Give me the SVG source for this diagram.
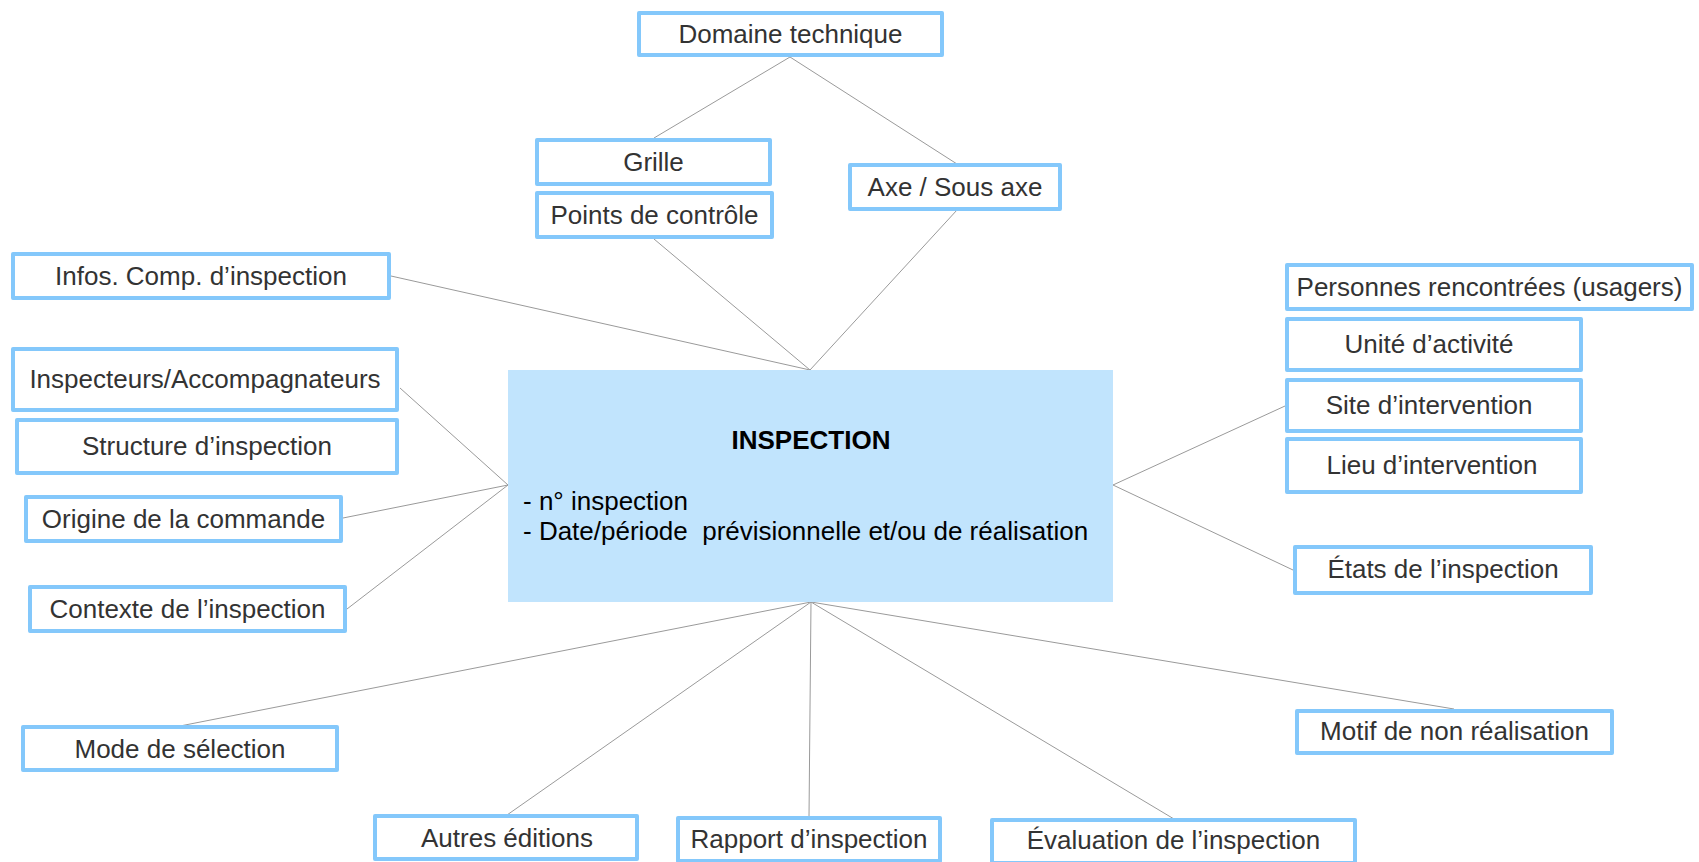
<svg xmlns="http://www.w3.org/2000/svg" width="1699" height="862" viewBox="0 0 1699 862">
<style>
  .box { fill: #ffffff; stroke: #84c8fb; stroke-width: 4; stroke-linejoin: round; }
  .lbl { font-family: "Liberation Sans", Arial, sans-serif; font-size: 26px; fill: #333333; text-anchor: middle; }
  .main { fill: #c1e4fd; }
  .mt { font-family: "Liberation Sans", Arial, sans-serif; font-size: 26px; fill: #000000; }
  .conn line { stroke: #9a9a9a; stroke-width: 1; }
</style>
<rect width="1699" height="862" fill="#ffffff"/>
<g id="connectors" class="conn">
  <line x1="790" y1="57" x2="654" y2="138"/>
  <line x1="790" y1="57" x2="957" y2="164"/>
  <line x1="654" y1="239" x2="810" y2="370"/>
  <line x1="957" y1="210" x2="810" y2="370"/>
  <line x1="391" y1="276" x2="810" y2="370"/>
  <line x1="400" y1="388" x2="508" y2="485"/>
  <line x1="343" y1="518" x2="508" y2="485"/>
  <line x1="347" y1="609" x2="508" y2="485"/>
  <line x1="811" y1="602" x2="180" y2="726"/>
  <line x1="811" y1="602" x2="507" y2="815"/>
  <line x1="811" y1="602" x2="809" y2="817"/>
  <line x1="811" y1="602" x2="1174" y2="819"/>
  <line x1="811" y1="602" x2="1454" y2="709"/>
  <line x1="1113" y1="485" x2="1285" y2="406"/>
  <line x1="1113" y1="485" x2="1293" y2="570"/>
</g>
<g id="inspection">
  <rect class="main" x="508" y="370" width="605" height="232"/>
  <text x="811" y="449" font-family="Liberation Sans, Arial, sans-serif" font-size="26" font-weight="bold" fill="#000000" text-anchor="middle">INSPECTION</text>
  <text class="mt" x="523" y="510">- n° inspection</text>
  <text class="mt" x="523" y="540" xml:space="preserve">- Date/période  prévisionnelle et/ou de réalisation</text>
</g>
<g id="domaine-technique"><rect class="box" x="639" y="13" width="303" height="42"/><text class="lbl" x="790.5" y="42.5">Domaine technique</text></g>
<g id="grille"><rect class="box" x="537" y="140" width="233" height="44"/><text class="lbl" x="653.5" y="171">Grille</text></g>
<g id="points-de-controle"><rect class="box" x="537" y="193" width="235" height="44"/><text class="lbl" x="654.5" y="224">Points de contrôle</text></g>
<g id="axe-sous-axe"><rect class="box" x="850" y="165" width="210" height="44"/><text class="lbl" x="955" y="196">Axe / Sous axe</text></g>
<g id="infos-comp"><rect class="box" x="13" y="254" width="376" height="44"/><text class="lbl" x="201" y="285">Infos. Comp. d’inspection</text></g>
<g id="inspecteurs"><rect class="box" x="13" y="349" width="384" height="61"/><text class="lbl" x="205" y="388">Inspecteurs/Accompagnateurs</text></g>
<g id="structure"><rect class="box" x="17" y="420" width="380" height="53"/><text class="lbl" x="207" y="455">Structure d’inspection</text></g>
<g id="origine"><rect class="box" x="26" y="497" width="315" height="44"/><text class="lbl" x="183.5" y="527.5">Origine de la commande</text></g>
<g id="contexte"><rect class="box" x="30" y="587" width="315" height="44"/><text class="lbl" x="187.5" y="617.5">Contexte de l’inspection</text></g>
<g id="mode-selection"><rect class="box" x="23" y="727" width="314" height="43"/><text class="lbl" x="180" y="757.5">Mode de sélection</text></g>
<g id="autres-editions"><rect class="box" x="375" y="816" width="262" height="43"/><text class="lbl" x="507" y="846.5">Autres éditions</text></g>
<g id="rapport"><rect class="box" x="678" y="818" width="262" height="43"/><text class="lbl" x="809" y="848">Rapport d’inspection</text></g>
<g id="evaluation"><rect class="box" x="992" y="820" width="363" height="43"/><text class="lbl" x="1173.5" y="849">Évaluation de l’inspection</text></g>
<g id="motif"><rect class="box" x="1297" y="711" width="315" height="42"/><text class="lbl" x="1454.5" y="740">Motif de non réalisation</text></g>
<g id="etats"><rect class="box" x="1295" y="547" width="296" height="46"/><text class="lbl" x="1443" y="577.5">États de l’inspection</text></g>
<g id="lieu"><rect class="box" x="1287" y="439" width="294" height="53"/><text class="lbl" x="1432" y="474">Lieu d’intervention</text></g>
<g id="site"><rect class="box" x="1287" y="380" width="294" height="51"/><text class="lbl" x="1429" y="414">Site d’intervention</text></g>
<g id="unite"><rect class="box" x="1287" y="319" width="294" height="51"/><text class="lbl" x="1429" y="353">Unité d’activité</text></g>
<g id="personnes"><rect class="box" x="1287" y="265" width="405" height="44"/><text class="lbl" x="1489.5" y="296">Personnes rencontrées (usagers)</text></g>
</svg>
